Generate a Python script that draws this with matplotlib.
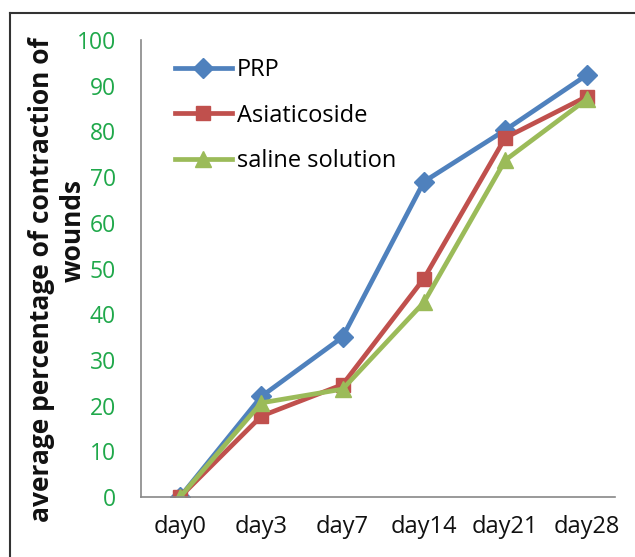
import numpy as np
import matplotlib.pyplot as plt
from matplotlib.lines import Line2D

days = ["day0", "day3", "day7", "day14", "day21", "day28"]
prp = [0, 22, 35, 69, 80.3, 92.3]
asiaticoside = [0, 17.7, 24.6, 47.8, 78.6, 87.6]
saline = [0, 20.6, 23.6, 42.6, 73.7, 87.0]

plt.rcParams['font.family'] = ['Open Sans', 'DejaVu Sans']

fig = plt.figure(figsize=(6.35, 5.57), dpi=100)
W, H = 635, 557
ax = fig.add_axes([141 / W, 1 - 497 / H, (615 - 141) / W, (497 - 40) / H])

x = np.arange(len(days))
ax.plot(x, prp, color="#4F81BD", lw=3.4, marker="D", ms=10, label="PRP")
ax.plot(x, asiaticoside, color="#C0504D", lw=3.4, marker="s", ms=10, label="Asiaticoside")
ax.plot(x, saline, color="#9BBB59", lw=3.4, marker="^", ms=12, label="saline solution")

ax.set_xlim(-0.48, 5.35)
ax.set_ylim(0, 100)
ax.set_yticks(range(0, 101, 10))
ax.set_xticks(x)
ax.set_xticklabels(days)
ax.tick_params(axis="y", length=0, pad=18, labelsize=16.5, labelcolor="#1FA84A")
ax.tick_params(axis="x", length=0, pad=13, labelsize=17, labelcolor="#111111")
for s in ["top", "right"]:
    ax.spines[s].set_visible(False)
ax.spines["left"].set_color("#888888")
ax.spines["bottom"].set_color("#888888")
ax.spines["left"].set_linewidth(1.2)
ax.spines["bottom"].set_linewidth(1.2)

# y label in two pieces, placed like the original
fig.text(42 / W, 1 - 280 / H, "average percentage of contraction of",
         rotation=90, ha="center", va="center", fontsize=19, fontweight="bold",
         color="#111111")
fig.text(73 / W, 1 - 231 / H, "wounds",
         rotation=90, ha="center", va="center", fontsize=19, fontweight="bold",
         color="#111111")

ax.legend(loc="upper left", bbox_to_anchor=(0.072, 0.96), frameon=False,
          borderpad=0, borderaxespad=0,
          fontsize=17, handlelength=2.4, labelspacing=0.9, handletextpad=0.2)

fig.add_artist(Line2D([10 / W, 10 / W], [0, 1 - 13 / H], color="#333333", lw=1.5))
fig.add_artist(Line2D([10 / W, 1], [1 - 13 / H, 1 - 13 / H], color="#333333", lw=1.5))

fig.savefig("out.png", dpi=100)
